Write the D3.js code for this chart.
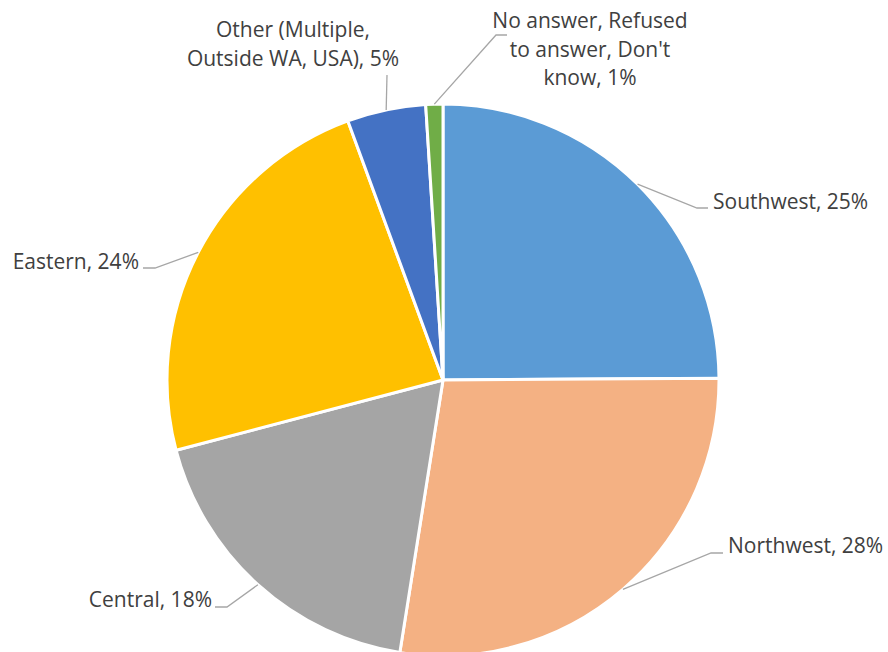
<!DOCTYPE html>
<html>
<head>
<meta charset="utf-8">
<script src="https://cdn.jsdelivr.net/npm/d3@7"></script>
<style>
html,body{margin:0;padding:0;background:#fff;}
svg{display:block;}
</style>
</head>
<body>
<svg id="chart" width="888" height="652"></svg>
<script>
const categories = ["Southwest", "Northwest", "Central", "Eastern", "Other (Multiple, Outside WA, USA)", "No answer, Refused to answer, Don't know"];
const values = [24.9, 27.6, 18.4, 23.5, 4.6, 1.0];
const labelText = ["25%", "28%", "18%", "24%", "5%", "1%"];
const colors = ["#5B9BD5", "#F4B183", "#A5A5A5", "#FFC000", "#4472C4", "#70AD47"];
const labelLines = [
  ["Southwest, 25%"],
  ["Northwest, 28%"],
  ["Central, 18%"],
  ["Eastern, 24%"],
  ["Other (Multiple,", "Outside WA, USA), 5%"],
  ["No answer, Refused", "to answer, Don't", "know, 1%"]
];
// label layout: elbow point, end point, text anchor position
const labelLayout = [
  {elbow:[697,208], end:[708,208], tx:713, ty:203, anchor:"start"},
  {elbow:[711,553], end:[723,553], tx:728, ty:547, anchor:"start"},
  {elbow:[227,607], end:[215,607], tx:212, ty:601, anchor:"end"},
  {elbow:[155,268], end:[143,268], tx:139, ty:263, anchor:"end"},
  {elbow:[387,75], end:[387,75], tx:293, ty:31, anchor:"middle"},
  {elbow:[496,35], end:[507,35], tx:590, ty:22, anchor:"middle"}
];

const svg = d3.select("#chart");
const cx = 443, cy = 380, R = 276;
const g = svg.append("g").attr("transform", `translate(${cx},${cy})`);

const pie = d3.pie().sort(null).value(d => d)(values);
const arc = d3.arc().innerRadius(0).outerRadius(R);

g.selectAll("path.slice").data(pie).enter().append("path")
  .attr("class","slice")
  .attr("d", arc)
  .attr("fill", (d,i) => colors[i])
  .attr("stroke", "#fff")
  .attr("stroke-width", 3)
  .attr("stroke-linejoin", "round");

const lineColor = "#A6A6A6";
pie.forEach((d,i) => {
  const mid = (d.startAngle + d.endAngle)/2;
  const sx = cx + R*Math.sin(mid), sy = cy - R*Math.cos(mid);
  const L = labelLayout[i];
  svg.append("polyline")
    .attr("points", [[sx,sy], L.elbow, L.end].map(p=>p.join(",")).join(" "))
    .attr("fill","none").attr("stroke", lineColor).attr("stroke-width", 1.3);
  const t = svg.append("text")
    .attr("x", L.tx).attr("y", L.ty)
    .attr("text-anchor", L.anchor)
    .attr("dominant-baseline", "middle")
    .attr("font-family", "'Open Sans', Lato, sans-serif")
    .attr("font-size", 21)
    .attr("fill", "#404040");
  labelLines[i].forEach((ln,k) => {
    t.append("tspan").attr("x", L.tx).attr("dy", k===0 ? 0 : 28.7).text(ln);
  });
});
</script>
</body>
</html>
